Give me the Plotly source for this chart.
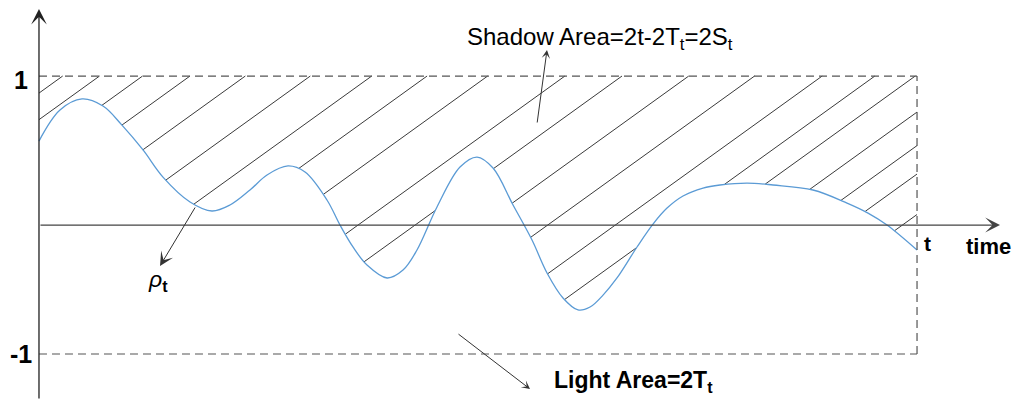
import numpy as np
import plotly.graph_objects as go

W, H = 1013, 406

# ---- data (time in units where the current time t = 10) ----
time_pts = [0.000, 0.239, 0.490, 0.729, 0.945, 1.185, 1.412, 1.720, 1.970, 2.175,
            2.403, 2.597, 2.836, 3.030, 3.280, 3.428, 3.576, 3.736, 3.964,
            4.146, 4.305, 4.533, 4.795, 4.989, 5.171, 5.399,
            5.615, 5.786, 5.968, 6.139, 6.276, 6.424, 6.583, 6.811, 6.993, 7.153,
            7.335, 7.563, 7.756, 8.064, 8.360, 8.815, 9.203, 9.442, 9.658, 10.000]
rho_pts = [0.532, 0.755, 0.835, 0.784, 0.647, 0.468, 0.273, 0.094, 0.029, 0.072,
           0.180, 0.288, 0.353, 0.309, 0.108, -0.072, -0.230, -0.360, -0.453,
           -0.396, -0.252, 0.058, 0.345, 0.417, 0.338, 0.072,
           -0.180, -0.417, -0.597, -0.683, -0.662, -0.576, -0.453, -0.230, -0.065, 0.050,
           0.137, 0.194, 0.216, 0.230, 0.216, 0.180, 0.086, 0.014, -0.072, -0.252]

T_END = 10.0
UPPER, LOWER = 1.0, -1.0
TIME_AXIS_RHO = -0.072

# time at which each hatch line meets rho = 1 (lines beyond T_END are clipped at t)
hatch_starts = [0.27, 0.69, 1.18, 1.72, 2.35, 3.09, 3.79, 4.42, 5.11, 5.99, 6.64,
                7.40, 8.15, 8.92, 9.52, 9.98, 10.57, 11.10, 11.55, 12.19]
HATCH_SLOPE = 0.455  # rho per unit of time

X_RANGE = [-0.444, 11.093]
Y_RANGE = [-1.374, 1.547]


def to_px(t, r):
    t = np.asarray(t, float)
    r = np.asarray(r, float)
    return ((t - X_RANGE[0]) / (X_RANGE[1] - X_RANGE[0]) * W,
            (Y_RANGE[1] - r) / (Y_RANGE[1] - Y_RANGE[0]) * H)


# replicate plotly's spline (smoothing=1) in pixel space to clip the hatching
def tangent(p0, p1, p2, s=1.0):
    d1 = p0 - p1
    d2 = p2 - p1
    d1a = (d1 @ d1) ** 0.25
    d2a = (d2 @ d2) ** 0.25
    num = (d2a ** 2 * d1 - d1a ** 2 * d2) * s
    den1 = 3 * d2a * (d1a + d2a)
    den2 = 3 * d1a * (d1a + d2a)
    return p1 + num / den1, p1 - num / den2


px, py = to_px(time_pts, rho_pts)
P = np.column_stack([px, py])
n = len(P)
tans = [tangent(P[i - 1], P[i], P[i + 1]) for i in range(1, n - 1)]
u = np.linspace(0, 1, 60)[:, None]
segs = [(1 - u) ** 2 * P[0] + 2 * (1 - u) * u * tans[0][0] + u ** 2 * P[1]]
for i in range(2, n - 1):
    c1 = tans[i - 2][1]
    c2 = tans[i - 1][0]
    segs.append((1 - u) ** 3 * P[i - 1] + 3 * (1 - u) ** 2 * u * c1
                + 3 * (1 - u) * u ** 2 * c2 + u ** 3 * P[i])
segs.append((1 - u) ** 2 * P[n - 2] + 2 * (1 - u) * u * tans[n - 3][1] + u ** 2 * P[n - 1])
curve = np.vstack(segs)
order = np.argsort(curve[:, 0])
cx, cy = curve[order, 0], curve[order, 1]

hx, hy = [], []
for T0 in hatch_starts:
    tmax = min(T_END, T0)
    t = np.linspace(0, tmax, 4000)
    r = UPPER - HATCH_SLOPE * (T0 - t)
    lx, ly = to_px(t, r)
    ok = (ly <= np.interp(lx, cx, cy)) & (r >= LOWER)
    i = 0
    while i < len(t):
        if ok[i]:
            j = i
            while j + 1 < len(t) and ok[j + 1]:
                j += 1
            if j > i:
                hx += [t[i], t[j], None]
                hy += [r[i], r[j], None]
            i = j + 1
        else:
            i += 1

fig = go.Figure()
fig.add_trace(go.Scatter(x=hx, y=hy, mode='lines', line=dict(color='#3a3a3a', width=1),
                         hoverinfo='skip', showlegend=False))
fig.add_trace(go.Scatter(x=time_pts, y=rho_pts, mode='lines',
                         line=dict(shape='spline', smoothing=1, color='#5b9bd5',
                                   width=1.3, simplify=False),
                         hoverinfo='skip', showlegend=False))

dash = dict(color='#555555', width=1.2, dash='8px,5px')
fig.add_shape(type='line', xref='x', yref='y', x0=0, x1=T_END, y0=UPPER, y1=UPPER, line=dash)
fig.add_shape(type='line', xref='x', yref='y', x0=0, x1=T_END, y0=LOWER, y1=LOWER, line=dash)
fig.add_shape(type='line', xref='x', yref='y', x0=T_END, x1=T_END, y0=LOWER, y1=UPPER, line=dash)

FONT = 'Liberation Sans, Arial, sans-serif'


def arrow(hx_px, hy_px, ax, ay, size, width=1.2, color='#333333'):
    fig.add_annotation(x=hx_px / W, y=1 - hy_px / H, xref='paper', yref='paper',
                       ax=ax, ay=ay, axref='pixel', ayref='pixel', text='',
                       showarrow=True, arrowhead=3, arrowsize=size, arrowwidth=width,
                       arrowcolor=color, standoff=0, startstandoff=0)


def label(x_px, y_px, text, size, xanchor='center', yanchor='middle'):
    fig.add_annotation(x=x_px / W, y=1 - y_px / H, xref='paper', yref='paper', text=text,
                       showarrow=False, xanchor=xanchor, yanchor=yanchor,
                       font=dict(family=FONT, size=size, color='black'))


ax0, _ = to_px(0, 0)
_, ay0 = to_px(0, TIME_AXIS_RHO)
arrow(ax0, 9, 0, 391, 2.0, 1.3, '#222222')
arrow(1000, ay0, -(1000 - ax0), 0, 1.9, 1.3, '#444444')
arrow(160, 266, 36, -60, 2.3, 1.0)
arrow(547, 50, -10, 74, 1.4, 1.0)
arrow(530, 389, -73, -56, 1.4, 1.0)

label(21, 80, '<b>1</b>', 25)
label(21, 354, '<b>-1</b>', 25)
label(927, 243, '<b>t</b>', 21)
label(988, 246, '<b>time</b>', 22)
label(146, 280, '<i>ρ</i><sub><b>t</b></sub>', 23, xanchor='left')
label(465, 38, 'Shadow Area=2t-2T<sub>t</sub>=2S<sub>t</sub>', 24, xanchor='left')
label(552, 381, '<b>Light Area=2T<sub>t</sub></b>', 23, xanchor='left')

fig.update_layout(width=W, height=H, margin=dict(l=0, r=0, t=0, b=0),
                  paper_bgcolor='white', plot_bgcolor='white', showlegend=False,
                  xaxis=dict(visible=False, range=X_RANGE, fixedrange=True),
                  yaxis=dict(visible=False, range=Y_RANGE, fixedrange=True))
fig.write_html('out.html', config={'displayModeBar': False, 'staticPlot': True},
               post_script="document.body.style.margin='0px';")
